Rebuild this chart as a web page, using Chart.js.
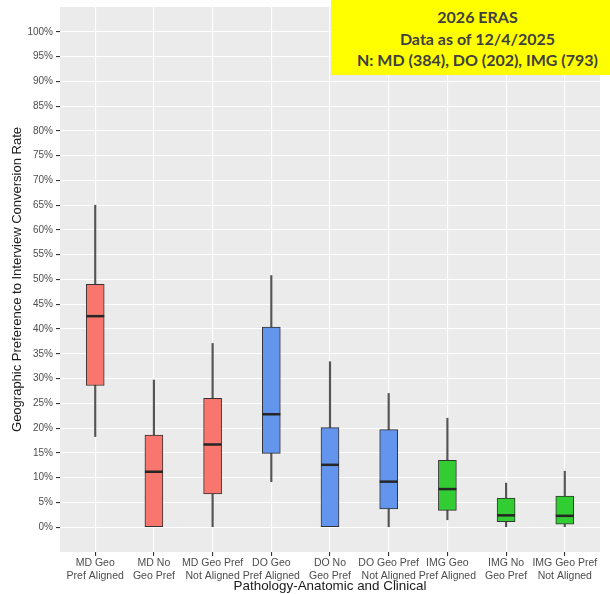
<!DOCTYPE html>
<html>
<head>
<meta charset="utf-8">
<script src="https://cdn.jsdelivr.net/npm/chart.js@4.4.0/dist/chart.umd.min.js"></script>
<style>
  html, body { margin: 0; padding: 0; background: #fff; }
  #wrap { position: relative; width: 610px; height: 594px; }
  #note {
    position: absolute; left: 331px; top: 0; width: 279px; height: 75px;
    box-sizing: border-box; padding: 6px 0 0 14px;
    background: #ffff00; color: #404040;
    font: bold 16px Lato, sans-serif; line-height: 21.5px; text-align: center;
  }
</style>
</head>
<body>
<div id="wrap">
  <canvas id="chart" width="610" height="594"></canvas>
  <div id="note">2026 ERAS<br>Data as of 12/4/2025<br>N: MD (384), DO (202), IMG (793)</div>
</div>
<script>
// box plot summary (percent)
const categories = [
  ['MD Geo', 'Pref Aligned'], ['MD No', 'Geo Pref'], ['MD Geo Pref', 'Not Aligned'],
  ['DO Geo', 'Pref Aligned'], ['DO No', 'Geo Pref'], ['DO Geo Pref', 'Not Aligned'],
  ['IMG Geo', 'Pref Aligned'], ['IMG No', 'Geo Pref'], ['IMG Geo Pref', 'Not Aligned']
];
const groups = ['MD', 'MD', 'MD', 'DO', 'DO', 'DO', 'IMG', 'IMG', 'IMG'];
const whiskerLow  = [18.3, 0.0, 0.1, 9.2, 0.0, 0.1, 1.5, 0.1, 0.1];
const q1          = [28.6, 0.0, 6.7, 14.9, 0.0, 3.7, 3.4, 1.1, 0.6];
const median      = [42.6, 11.2, 16.7, 22.8, 12.6, 9.2, 7.7, 2.4, 2.3];
const q3          = [49.0, 18.6, 26.0, 40.4, 20.1, 19.7, 13.5, 5.9, 6.3];
const whiskerHigh = [65.0, 29.7, 37.1, 50.8, 33.4, 27.0, 22.0, 8.9, 11.3];
const yTicks = [0, 5, 10, 15, 20, 25, 30, 35, 40, 45, 50, 55, 60, 65, 70, 75, 80, 85, 90, 95, 100];

const groupColors = { MD: '#F8766D', DO: '#6495ED', IMG: '#32CD32' };

const panelBg = {
  id: 'panelBg',
  beforeDraw(chart) {
    const a = chart.chartArea, c = chart.ctx;
    c.save();
    c.fillStyle = '#EBEBEB';
    c.fillRect(a.left, a.top, a.right - a.left, a.bottom - a.top);
    c.restore();
  }
};

const xs = categories.map((c, i) => i + 1);

new Chart(document.getElementById('chart').getContext('2d'), {
  data: {
    datasets: [
      {
        type: 'bar',
        order: 3,
        grouped: false,
        data: xs.map((x, i) => ({ x: x, y: [whiskerLow[i], whiskerHigh[i]] })),
        backgroundColor: '#555555',
        borderWidth: 0,
        barThickness: 1.5
      },
      {
        type: 'bar',
        order: 2,
        grouped: false,
        data: xs.map((x, i) => ({ x: x, y: [q1[i], q3[i]] })),
        backgroundColor: groups.map(g => groupColors[g]),
        borderColor: '#333333',
        borderWidth: 1,
        borderSkipped: false,
        barThickness: 18
      },
      {
        type: 'line',
        order: 1,
        showLine: false,
        data: xs.map((x, i) => ({ x: x, y: median[i] })),
        pointStyle: 'line',
        pointRadius: 9,
        pointHoverRadius: 9,
        pointBorderWidth: 2.5,
        pointBorderColor: '#262626'
      }
    ]
  },
  options: {
    responsive: false,
    animation: false,
    events: [],
    layout: { autoPadding: false, padding: { left: 0, top: 7, right: 10, bottom: 0 } },
    plugins: {
      legend: { display: false },
      tooltip: { enabled: false }
    },
    scales: {
      x: {
        type: 'linear',
        min: 0.4,
        max: 9.6,
        offset: false,
        afterBuildTicks: s => { s.ticks = xs.map(v => ({ value: v })); },
        afterFit: s => { s.height = 42; s.paddingLeft = 0; s.paddingRight = 0; },
        border: { display: false },
        grid: { offset: false, color: '#ffffff', lineWidth: 1.1, tickColor: '#333333', tickLength: 4 },
        ticks: {
          padding: 1,
          maxRotation: 0,
          autoSkip: false,
          color: '#4D4D4D',
          font: { family: 'Liberation Sans', size: 10.5 },
          callback: v => categories[v - 1]
        },
        title: {
          display: true,
          text: 'Pathology-Anatomic and Clinical',
          color: '#1a1a1a',
          padding: { top: 0, bottom: 0 },
          font: { family: 'Liberation Sans', size: 13.4 }
        }
      },
      y: {
        min: -5,
        max: 105,
        afterBuildTicks: s => { s.ticks = yTicks.map(v => ({ value: v })); },
        afterFit: s => { s.width = 60; s.paddingTop = 0; s.paddingBottom = 0; },
        border: { display: false },
        grid: { color: '#ffffff', lineWidth: 1.1, tickColor: '#333333', tickLength: 4 },
        ticks: {
          padding: 3,
          color: '#4D4D4D',
          font: { family: 'Liberation Sans', size: 10 },
          callback: v => v + '%'
        },
        title: {
          display: true,
          text: 'Geographic Preference to Interview Conversion Rate',
          color: '#1a1a1a',
          padding: { top: 10, bottom: 0 },
          font: { family: 'Liberation Sans', size: 13 }
        }
      }
    }
  },
  plugins: [panelBg]
});
</script>
</body>
</html>
